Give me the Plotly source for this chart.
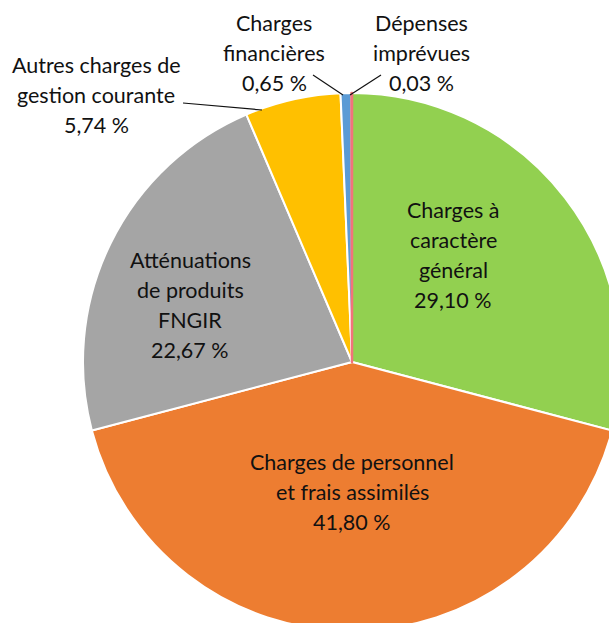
import plotly.graph_objects as go

labels = ["Charges à caractère général", "Charges de personnel et frais assimilés",
          "Atténuations de produits FNGIR", "Autres charges de gestion courante",
          "Charges financières", "Dépenses imprévues"]
values = [29.10, 41.80, 22.67, 5.74, 0.65, 0.03]
colors = ["#92D050", "#ED7D31", "#A5A5A5", "#FFC000", "#5B9BD5", "#F2737B"]
label_lines = [["Charges à", "caractère", "général", "29,10 %"],
               ["Charges de personnel", "et frais assimilés", "41,80 %"],
               ["Atténuations", "de produits", "FNGIR", "22,67 %"],
               ["Autres charges de", "gestion courante", "5,74 %"],
               ["Charges", "financières", "0,65 %"],
               ["Dépenses", "imprévues", "0,03 %"]]

W, H = 640, 640
def px(x): return x / W
def py(y): return 1 - y / H

cx, cy, r = 352, 362, 269

fig = go.Figure(go.Pie(
    labels=labels, values=values, sort=False, direction="clockwise", rotation=0,
    marker=dict(colors=colors,
                line=dict(color=["white"] * 5 + ["#F2737B"], width=[2, 2, 2, 2, 2, 2.5])),
    textinfo="none", hoverinfo="label+percent", showlegend=False,
    domain=dict(x=[px(cx - r), px(cx + r)], y=[py(cy + r), py(cy - r)]),
))

label_pos = [(453, 256), (352, 493), (190, 306), (96, 96), (274, 54), (421, 54)]
spacing = 30
font = dict(family="Lato, 'Open Sans', sans-serif", size=21.5, color="#111111")
for lines, (x, y) in zip(label_lines, label_pos):
    n = len(lines)
    for i, t in enumerate(lines):
        yy = y + (i - (n - 1) / 2) * spacing - 1
        fig.add_annotation(text=t, x=px(x), y=py(yy), xref="paper", yref="paper",
                           showarrow=False, font=font, xanchor="center", yanchor="middle")

leaders = [((183, 103), (262, 110)), ((313, 75), (343, 95)), ((381, 75), (350, 95))]
for (x0, y0), (x1, y1) in leaders:
    fig.add_shape(type="line", xref="paper", yref="paper",
                  x0=px(x0), y0=py(y0), x1=px(x1), y1=py(y1),
                  line=dict(color="#111111", width=1.2))

fig.update_layout(width=W, height=H, margin=dict(l=0, r=0, t=0, b=0),
                  paper_bgcolor="white", plot_bgcolor="white")

fig.write_html("out.html", post_script=(
    "document.body.style.margin='0';document.body.style.overflow='hidden';"
    "document.documentElement.style.overflow='hidden';"))
